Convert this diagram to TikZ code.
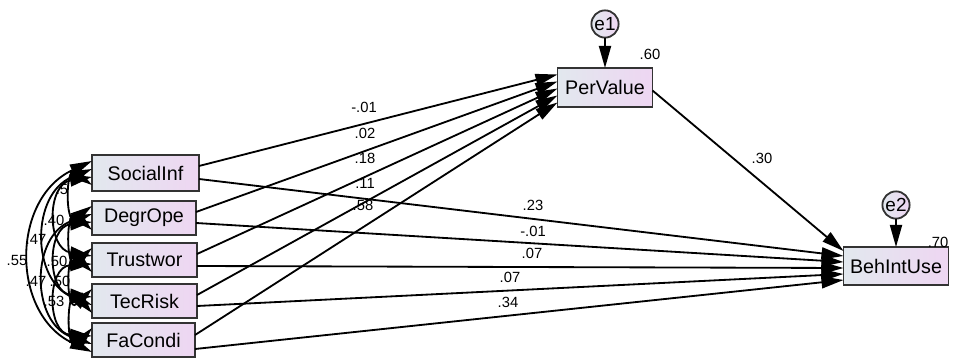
\documentclass[tikz,border=0pt]{standalone}
\usepackage{fontspec}
\setmainfont{Liberation Sans}
\usetikzlibrary{positioning}
\usetikzlibrary{arrows.meta}
\usetikzlibrary{calc}

\definecolor{boxleft}{RGB}{226,232,238}
\definecolor{boxright}{RGB}{238,214,242}

\tikzset{
    obs/.style={draw=black!80, line width=1.3pt, left color=boxleft, right color=boxright,
        inner sep=0pt, outer sep=0pt, font=\fontsize{14}{16}\selectfont},
    err/.style={circle, draw=black!80, line width=1.3pt, left color=boxleft, right color=boxright,
        inner sep=0pt, outer sep=0pt, minimum size=0.68cm, font=\fontsize{13.5}{15}\selectfont},
    wt/.style={inner sep=0pt, font=\fontsize{10.5}{12}\selectfont},
    reg/.style={->, line width=1.3pt},
    cov/.style={<->, line width=1.3pt},
}

\begin{document}
\begin{tikzpicture}[x=0.025cm, y=-0.025cm, >={Triangle[length=0.55cm, width=0.3cm]}]
    \useasboundingbox (0,0) rectangle (953,359);

    % observed variables
    \node[obs, minimum width=2.675cm, minimum height=0.9cm] (sinf) at (145.5,173) {SocialInf};
    \node[obs, minimum width=2.6cm, minimum height=0.85cm] (dope) at (144,218) {DegrOpe};
    \node[obs, minimum width=2.625cm, minimum height=0.85cm] (trust) at (144.5,260) {Trustwor};
    \node[obs, minimum width=2.625cm, minimum height=0.85cm] (trisk) at (144.5,301) {TecRisk};
    \node[obs, minimum width=2.575cm, minimum height=0.85cm] (facon) at (143.5,340) {FaCondi};
    \node[obs, minimum width=2.375cm, minimum height=0.975cm] (perv) at (605,87.5) {PerValue};
    \node[obs, minimum width=2.625cm, minimum height=0.95cm] (biu) at (896,266) {BehIntUse};

    % errors
    \node[err] (e1) at (605,24) {e1};
    \node[err] (e2) at (896,205) {e2};

    % weights
    \node[wt] (w1) at (364,107) {-.01};
    \node[wt] (w2) at (365,133) {.02};
    \node[wt] (w3) at (365,158) {.18};
    \node[wt] (w4) at (365,183) {.11};
    \node[wt] (w5) at (363,205) {.58};
    \node[wt] (w6) at (533,205) {.23};
    \node[wt] (w7) at (533,231) {-.01};
    \node[wt] (w8) at (532,253) {.07};
    \node[wt] (w9) at (510,277) {.07};
    \node[wt] (w10) at (508,302) {.34};
    \node[wt] (w11) at (762,158) {.30};
    \node[wt] (r1) at (650,54) {.60};
    \node[wt] (r2) at (938,242) {.70};

    % correlations
    \node[wt] (c1) at (62,189) {.5};
    \node[wt] (c2) at (54,220) {.40};
    \node[wt] (c3) at (36,239) {.47};
    \node[wt] (c4) at (17,260) {.55};
    \node[wt] (c5) at (57,261) {.50};
    \node[wt] (c6) at (36,281) {.47};
    \node[wt] (c7) at (60,281) {.50};
    \node[wt] (c8) at (54,301) {.53};

    \draw[reg] (e1) -- (perv);
    \draw[reg] (e2) -- (biu);

    \draw[reg] ($(sinf.east)+(0,-7)$) -- ($(perv.west)+(0,-13)$);
    \draw[reg] ($(dope.east)+(0,-6)$) -- ($(perv.west)+(0,-6)$);
    \draw[reg] ($(trust.east)+(0,-6)$) -- ($(perv.west)+(0,1)$);
    \draw[reg] ($(trisk.east)+(0,-6)$) -- ($(perv.west)+(0,8)$);
    \draw[reg] ($(facon.east)+(0,-5)$) -- ($(perv.west)+(0,15)$);

    \draw[reg] ($(sinf.east)+(0,6)$) -- ($(biu.west)+(0,-10)$);
    \draw[reg] ($(dope.east)+(0,5)$) -- ($(biu.west)+(0,-4)$);
    \draw[reg] ($(trust.east)+(0,6)$) -- ($(biu.west)+(0,2)$);
    \draw[reg] ($(trisk.east)+(0,5)$) -- ($(biu.west)+(0,8)$);
    \draw[reg] ($(facon.east)+(0,9)$) -- ($(biu.west)+(0,14)$);

    \draw[reg] ($(perv.east)+(0,3)$) -- ($(biu.west)+(0,-15)$);

    % covariances, outer to inner
    \draw[cov] ($(sinf.west)+(0,-12)$) to[out=205, in=155, distance=2.24cm] ($(facon.west)+(0,12)$);
    \draw[cov] ($(sinf.west)+(0,-4)$) to[out=202, in=158, distance=1.65cm] ($(trisk.west)+(0,4)$);
    \draw[cov] ($(dope.west)+(0,-4)$) to[out=199, in=161, distance=1.63cm] ($(facon.west)+(0,4)$);
    \draw[cov] ($(sinf.west)+(0,4)$) to[out=189, in=171, distance=1.15cm] ($(trust.west)+(0,-4)$);
    \draw[cov] ($(dope.west)+(0,4)$) to[out=186, in=174, distance=1.14cm] ($(trisk.west)+(0,-4)$);
    \draw[cov] ($(trust.west)+(0,4)$) to[out=183, in=177, distance=1.14cm] ($(facon.west)+(0,-4)$);
    \draw[cov] ($(sinf.west)+(0,12)$) to[out=145, in=215, distance=0.81cm] ($(dope.west)+(0,-12)$);
    \draw[cov] ($(dope.west)+(0,12)$) to[out=138, in=222, distance=0.89cm] ($(trust.west)+(0,-12)$);
    \draw[cov] ($(trust.west)+(0,12)$) to[out=136, in=224, distance=0.92cm] ($(trisk.west)+(0,-12)$);
    \draw[cov] ($(trisk.west)+(0,12)$) to[out=131, in=229, distance=1.01cm] ($(facon.west)+(0,-12)$);
\end{tikzpicture}
\end{document}
